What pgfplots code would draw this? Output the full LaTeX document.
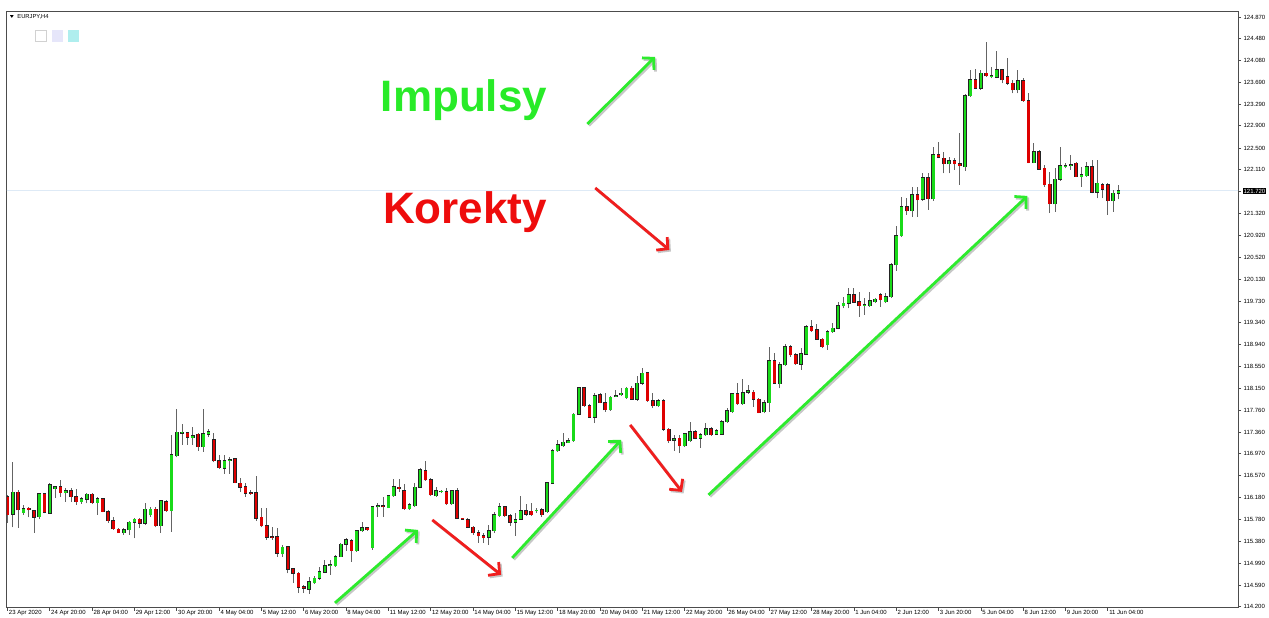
\documentclass[border=0pt]{standalone}
\usepackage{fontspec}
\setmainfont{Liberation Sans}
\usepackage{pgfplots}
\usepackage{pgfplotstable}
\pgfplotsset{compat=1.18}
\usetikzlibrary{arrows.meta}
\definecolor{upc}{RGB}{25,218,25}
\definecolor{dnc}{RGB}{222,0,0}
\definecolor{wickc}{RGB}{100,100,100}
\definecolor{edgec}{RGB}{35,35,35}
\definecolor{impc}{RGB}{40,235,40}
\definecolor{korc}{RGB}{238,12,12}
\definecolor{garr}{RGB}{45,235,45}
\definecolor{rarr}{RGB}{240,30,30}
\definecolor{pricel}{RGB}{222,234,246}
\definecolor{lav}{RGB}{230,230,250}
\definecolor{turq}{RGB}{175,238,238}

\pgfplotstableread{
i o h l c
0 116.195 116.225 115.713 115.863
1 115.875 116.828 115.640 116.273
2 116.273 116.315 115.634 115.954
3 115.905 116.044 115.863 115.972
4 115.984 116.014 115.821 115.954
5 115.936 115.954 115.544 115.821
6 115.833 116.267 115.785 116.243
7 116.243 116.261 115.893 115.911
8 115.893 116.436 115.881 116.406
9 116.340 116.388 116.165 116.376
10 116.376 116.496 116.195 116.267
11 116.267 116.346 116.104 116.303
12 116.303 116.346 116.104 116.195
13 116.195 116.328 116.044 116.104
14 116.104 116.195 116.062 116.153
15 116.147 116.255 116.074 116.237
16 116.237 116.255 116.062 116.086
17 116.086 116.195 115.863 116.153
18 116.153 116.165 115.911 115.924
19 115.924 115.954 115.713 115.761
20 115.761 115.833 115.592 115.610
21 115.600 115.622 115.532 115.544
22 115.544 115.622 115.502 115.592
23 115.592 115.755 115.502 115.731
24 115.731 115.803 115.441 115.785
25 115.785 115.803 115.622 115.713
26 115.713 116.074 115.683 115.966
27 115.863 116.002 115.833 115.966
28 115.966 116.002 115.640 115.664
29 115.670 116.135 115.544 116.123
30 116.104 116.135 115.924 115.942
31 115.942 117.310 115.562 116.948
32 116.930 117.774 116.906 117.358
33 117.340 117.509 117.129 117.358
34 117.352 117.370 117.129 117.268
35 117.262 117.461 117.129 117.298
36 117.322 117.340 117.027 117.099
37 117.099 117.774 117.009 117.328
38 117.322 117.413 117.268 117.370
39 117.220 117.340 116.816 116.840
40 116.840 116.948 116.695 116.719
41 116.707 116.948 116.605 116.840
42 116.846 116.918 116.605 116.858
43 116.876 116.888 116.436 116.448
44 116.436 116.526 116.285 116.364
45 116.376 116.436 116.195 116.255
46 116.267 116.315 116.225 116.255
47 116.267 116.569 115.761 115.803
48 115.821 115.984 115.640 115.664
49 115.664 115.984 115.411 115.460
50 115.472 115.652 115.411 115.460
51 115.472 115.622 115.110 115.170
52 115.158 115.321 115.110 115.279
53 115.291 115.291 114.808 114.881
54 114.887 114.899 114.628 114.808
55 114.808 114.839 114.447 114.555
56 114.567 114.597 114.447 114.537
57 114.519 114.748 114.435 114.658
58 114.640 114.760 114.616 114.718
59 114.719 114.930 114.689 114.839
60 114.827 115.050 114.809 114.948
61 114.948 115.050 114.779 114.960
62 114.942 115.141 114.930 115.111
63 115.111 115.364 115.098 115.334
64 115.334 115.442 115.219 115.412
65 115.394 115.424 115.020 115.219
66 115.219 115.593 115.201 115.575
67 115.575 115.731 115.563 115.635
68 115.635 115.653 115.581 115.593
69 115.273 116.033 115.231 116.015
70 116.009 116.075 115.834 116.027
71 116.027 116.196 115.834 116.009
72 115.997 116.226 115.985 116.208
73 116.208 116.509 116.196 116.376
74 116.364 116.509 116.286 116.340
75 116.304 116.425 115.954 115.973
76 115.973 116.075 115.954 116.045
77 116.033 116.437 116.015 116.364
78 116.364 116.708 116.346 116.678
79 116.666 116.847 116.485 116.497
80 116.497 116.527 116.208 116.226
81 116.208 116.376 116.196 116.304
82 116.280 116.316 116.256 116.292
83 116.286 116.358 116.045 116.063
84 116.063 116.316 116.045 116.298
85 116.298 116.358 115.786 115.804
86 115.804 115.816 115.774 115.786
87 115.774 115.804 115.623 115.641
88 115.641 115.665 115.502 115.545
89 115.545 115.593 115.364 115.484
90 115.484 115.532 115.352 115.454
91 115.460 115.683 115.321 115.581
92 115.581 115.924 115.532 115.864
93 115.852 116.075 115.834 116.015
94 116.015 116.033 115.834 115.852
95 115.852 115.882 115.671 115.731
96 115.731 115.894 115.484 115.774
97 115.786 116.208 115.774 115.942
98 115.942 116.063 115.852 115.876
99 115.930 116.087 115.846 115.870
100 115.936 115.997 115.894 115.948
101 115.954 115.985 115.834 115.864
102 115.924 116.467 115.894 116.449
103 116.437 117.052 116.425 117.021
104 117.021 117.220 117.009 117.130
105 117.118 117.341 117.100 117.178
106 117.172 117.250 117.160 117.202
107 117.208 117.702 117.190 117.684
108 117.684 118.185 117.672 118.167
109 118.167 118.185 117.823 117.841
110 117.841 117.865 117.612 117.630
111 117.630 118.064 117.522 118.022
112 118.034 118.064 117.883 117.895
113 117.895 118.064 117.733 117.763
114 117.763 118.016 117.745 117.992
115 118.004 118.124 117.992 118.022
116 118.034 118.155 118.016 118.064
117 117.986 118.185 117.962 118.155
118 118.155 118.197 117.944 117.956
119 117.956 118.378 117.932 118.245
120 118.245 118.516 118.215 118.426
121 118.438 118.456 117.914 117.932
122 117.932 118.064 117.793 117.835
123 117.835 117.956 117.811 117.932
124 117.932 117.956 117.389 117.413
125 117.413 117.443 117.160 117.202
126 117.214 117.311 117.027 117.238
127 117.250 117.310 116.979 117.111
128 117.111 117.340 117.099 117.328
129 117.208 117.551 117.190 117.371
130 117.371 117.401 117.232 117.250
131 117.250 117.340 117.081 117.310
132 117.310 117.521 117.292 117.419
133 117.419 117.461 117.292 117.310
134 117.322 117.413 117.310 117.383
135 117.322 117.582 117.310 117.551
136 117.551 117.793 117.533 117.750
137 117.732 118.076 117.714 118.052
138 118.052 118.245 117.853 117.871
139 117.871 118.317 117.853 118.076
140 118.082 118.215 118.052 118.106
141 118.082 118.124 117.811 117.955
142 117.955 117.973 117.702 117.714
143 117.726 117.943 117.702 117.895
144 117.895 118.908 117.732 118.655
145 118.655 118.787 118.227 118.245
146 118.233 118.637 118.154 118.576
147 118.576 118.956 118.558 118.908
148 118.908 118.938 118.727 118.757
149 118.757 118.799 118.576 118.594
150 118.588 118.878 118.486 118.775
151 118.769 119.300 118.757 119.269
152 119.269 119.390 119.179 119.197
153 119.209 119.318 119.028 119.040
154 119.040 119.058 118.878 118.908
155 118.938 119.209 118.848 119.179
156 119.179 119.330 119.161 119.240
157 119.240 119.722 119.220 119.643
158 119.643 119.812 119.601 119.692
159 119.692 119.963 119.601 119.842
160 119.842 119.963 119.692 119.710
161 119.722 119.903 119.451 119.649
162 119.655 119.782 119.481 119.661
163 119.649 119.903 119.631 119.734
164 119.722 119.782 119.692 119.764
165 119.842 119.872 119.631 119.752
166 119.722 119.872 119.692 119.812
167 119.813 120.416 119.783 120.385
168 120.385 121.091 120.283 120.916
169 120.916 121.621 120.898 121.440
170 121.440 121.591 121.289 121.368
171 121.368 121.802 121.259 121.651
172 121.651 121.802 121.259 121.561
173 121.573 122.055 121.549 121.965
174 121.965 122.043 121.380 121.579
175 121.579 122.525 121.549 122.374
176 122.374 122.615 122.314 122.332
177 122.314 122.435 122.043 122.212
178 122.212 122.332 122.043 122.272
179 122.272 122.314 122.103 122.212
180 122.212 122.766 121.832 122.175
181 122.164 123.478 122.091 123.441
182 123.441 123.912 123.429 123.731
183 123.731 123.924 123.562 123.580
184 123.580 123.912 123.550 123.851
185 123.851 124.424 123.791 123.803
186 123.791 123.972 123.761 123.803
187 123.779 124.261 123.761 123.912
188 123.912 123.924 123.670 123.731
189 123.791 124.123 123.640 123.670
190 123.670 123.731 123.490 123.550
191 123.550 123.912 123.490 123.713
192 123.719 123.761 123.339 123.357
193 123.357 123.490 122.224 122.236
194 122.236 122.598 122.224 122.435
195 122.435 122.465 122.103 122.115
196 122.133 122.194 121.802 121.832
197 121.844 122.073 121.320 121.488
198 121.488 122.133 121.350 121.934
199 121.934 122.513 121.910 122.176
200 122.164 122.224 122.133 122.182
201 122.176 122.374 122.103 122.194
202 122.224 122.254 121.971 121.983
203 121.983 122.164 121.802 122.013
204 122.001 122.254 121.983 122.164
205 122.164 122.284 121.681 121.699
206 121.699 122.284 121.591 121.862
207 121.832 121.862 121.591 121.754
208 121.832 121.862 121.289 121.549
209 121.549 121.742 121.350 121.681
210 121.681 121.832 121.573 121.730
}\candles

\newcommand{\marrow}[5]{%
  \draw[line width=1.4pt, black!22, -{Straight Barb[length=4pt,width=8.5pt]}]
    ([shift={(0.8pt,-0.8pt)}]axis cs:#2,#3) -- ([shift={(0.8pt,-0.8pt)}]axis cs:#4,#5);
  \draw[line width=1.4pt, #1, -{Straight Barb[length=4pt,width=8.5pt]}]
    (axis cs:#2,#3) -- (axis cs:#4,#5);}

\begin{document}
\begin{tikzpicture}
\begin{axis}[
  at={(3.5pt,4.5pt)}, anchor=south west,
  width=615.5pt, height=298pt, scale only axis,
  xmin=-0.1, xmax=232.6, ymin=114.18, ymax=124.96,
  axis line style={draw=black!70, line width=0.5pt},
  xtick={0,8,...,208},
  xticklabels={23 Apr 2020,24 Apr 20:00,28 Apr 04:00,29 Apr 12:00,30 Apr 20:00,4 May 04:00,5 May 12:00,6 May 20:00,8 May 04:00,11 May 12:00,12 May 20:00,14 May 04:00,15 May 12:00,18 May 20:00,20 May 04:00,21 May 12:00,22 May 20:00,26 May 04:00,27 May 12:00,28 May 20:00,1 Jun 04:00,2 Jun 12:00,3 Jun 20:00,5 Jun 04:00,8 Jun 12:00,9 Jun 20:00,11 Jun 04:00},
  xtick pos=left, xticklabel pos=left,
  ytick pos=right, yticklabel pos=right,
  tick align=outside, major tick length=1.5pt,
  tick style={black!70, line width=0.4pt},
  ytick={114.2,114.59,114.99,115.38,115.78,116.18,116.57,116.97,117.36,117.76,118.15,118.55,118.94,119.34,119.73,120.13,120.52,120.92,121.32,122.11,122.5,122.9,123.29,123.69,124.08,124.48,124.87},
  extra y ticks={121.72},
  extra y tick style={yticklabel style={fill=black, text=white, inner sep=0.5pt}},
  yticklabel style={/pgf/number format/fixed, /pgf/number format/fixed zerofill, /pgf/number format/precision=3, /pgf/number format/1000 sep={}, /pgf/number format/assume math mode=true, font=\fontsize{3}{3.5}\selectfont, anchor=west, inner sep=0.5pt, xshift=0.6pt},
  xticklabel style={font=\fontsize{3}{3.5}\selectfont, anchor=north west, inner sep=0.3pt, xshift=0.2pt, yshift=0.6pt},
  clip=true,
]
% faint current price line
\addplot[draw=pricel, line width=0.4pt, forget plot] coordinates {(-1,121.735) (240,121.735)};
% wicks
\addplot[forget plot, draw=none, mark=none,
  error bars/.cd, y dir=plus, y explicit, error mark=none,
  error bar style={draw=wickc, line width=0.45pt}]
  table[x=i, y=l, y error expr={\thisrow{h}-\thisrow{l}}] {\candles};
% body outline
\addplot[forget plot, draw=none, mark=none,
  error bars/.cd, y dir=plus, y explicit, error mark=none,
  error bar style={draw=edgec, line width=1.85pt}]
  table[x=i, y expr={min(\thisrow{o},\thisrow{c})-0.009}, y error expr={abs(\thisrow{c}-\thisrow{o})+0.018}] {\candles};
% green fill
\addplot[forget plot, draw=none, mark=none,
  error bars/.cd, y dir=plus, y explicit, error mark=none,
  error bar style={draw=upc, line width=1.3pt}]
  table[x=i, y expr={ifthenelse(\thisrow{c}>=\thisrow{o},\thisrow{o},100)}, y error expr={ifthenelse(\thisrow{c}>=\thisrow{o},\thisrow{c}-\thisrow{o},0)}] {\candles};
% red fill
\addplot[forget plot, draw=none, mark=none,
  error bars/.cd, y dir=plus, y explicit, error mark=none,
  error bar style={draw=dnc, line width=1.3pt}]
  table[x=i, y expr={ifthenelse(\thisrow{c}<\thisrow{o},\thisrow{c},100)}, y error expr={ifthenelse(\thisrow{c}<\thisrow{o},\thisrow{o}-\thisrow{c},0)}] {\candles};
% arrows
\marrow{garr}{109.6}{122.935}{122.4}{124.147}
\marrow{garr}{61.9}{114.272}{77.6}{115.592}
\marrow{garr}{95.4}{115.086}{116.0}{117.220}
\marrow{garr}{132.5}{116.225}{192.8}{121.633}
\marrow{rarr}{111.1}{121.777}{125.1}{120.656}
\marrow{rarr}{80.3}{115.773}{93.3}{114.779}
\marrow{rarr}{117.7}{117.491}{127.5}{116.280}
\end{axis}
% annotations
\node[text=impc, font=\fontsize{22}{22}\selectfont\bfseries] at (232pt,258.5pt) {Impulsy};
\node[text=korc, font=\fontsize{22}{22}\selectfont\bfseries] at (232.5pt,202.5pt) {Korekty};
% top-left header
\fill[black] (5pt,300.9pt) -- (6.8pt,300.9pt) -- (5.9pt,299.6pt) -- cycle;
\node[anchor=west, inner sep=0pt, font=\fontsize{2.9}{3}\selectfont] at (8.5pt,300.3pt) {EURJPY,H4};
\draw[black!18, fill=white, line width=0.4pt] (17.7pt,287.7pt) rectangle (23pt,293.3pt);
\fill[lav] (26pt,287.5pt) rectangle (31.5pt,293.5pt);
\fill[turq] (34pt,287.5pt) rectangle (39.5pt,293.5pt);
\pgfresetboundingbox
\path[use as bounding box] (0,0) rectangle (634.5pt,308.5pt);
\end{tikzpicture}
\end{document}
